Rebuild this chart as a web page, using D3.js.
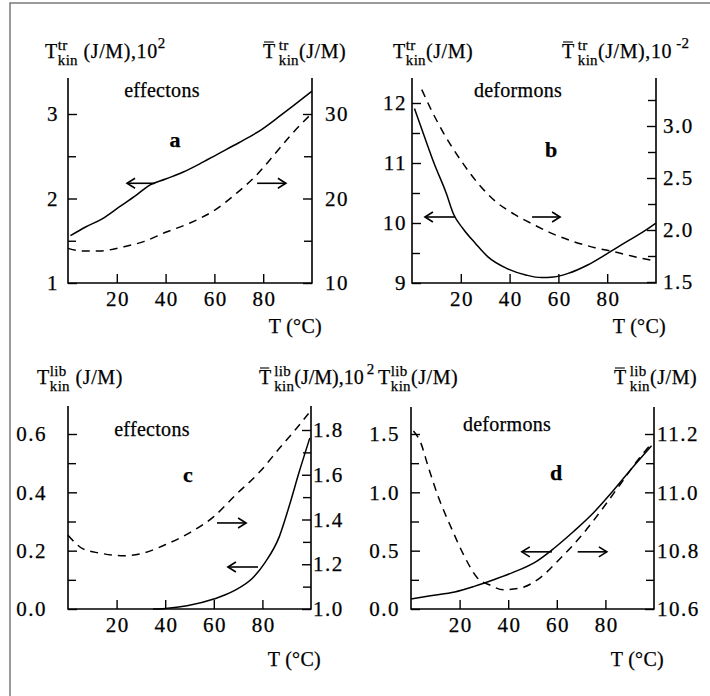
<!DOCTYPE html>
<html><head><meta charset="utf-8">
<script src="https://cdn.jsdelivr.net/npm/d3@7"></script>
<style>
body{margin:0;background:#fff;}
svg{display:block;font-family:"Liberation Serif","DejaVu Serif","Noto Serif",serif;}
svg text{font-family:"Liberation Serif","DejaVu Serif","Noto Serif",serif;fill:#000;stroke:#000;stroke-width:0.25px;}
.tk{font-size:21px;letter-spacing:1.5px;}
.hd{font-size:20px;letter-spacing:0.6px;}
.hd.tight{letter-spacing:0px;}
.sm{font-size:15px;letter-spacing:0.3px;}
.lb{font-size:20px;letter-spacing:0.3px;}
.bd{font-size:22px;font-weight:bold;}
</style></head><body>
<svg id="c" width="710" height="696" font-family="Liberation Serif, serif"></svg>
<script>
// ---------- data ----------
const xTicks = [20, 40, 60, 80];

// panel a : effectons, translational
const aSolidT = [1, 7, 14, 21, 28, 33, 40, 47, 54, 61, 70, 79, 87, 92, 100];
const aSolidV = [1.56, 1.66, 1.76, 1.90, 2.04, 2.15, 2.23, 2.31, 2.41, 2.52, 2.66, 2.81, 2.98, 3.09, 3.27];
const aDashT = [0, 6, 13, 23, 31, 40, 50, 60, 69, 77, 84, 91, 100];
const aDashV = [14.1, 13.8, 13.8, 14.3, 14.9, 16.0, 17.1, 18.6, 20.6, 22.7, 25.0, 27.4, 30.1];
const aLeftTicks = [1, 2, 3], aLeftMinor = [1.5, 2.5];
const aRightTicks = [10, 20, 30], aRightMinor = [15, 25];
const aArrows = [[35.7, 24.2, 2.18], [77.5, 89.3, 2.18]];

// panel b : deformons, translational
const bSolidT = [1, 5, 9, 14, 17, 21, 26, 31, 39, 47, 53, 58, 64, 72, 80, 88, 95, 100];
const bSolidV = [11.91, 11.45, 11.0, 10.5, 10.15, 9.9, 9.66, 9.44, 9.24, 9.13, 9.09, 9.1, 9.16, 9.30, 9.49, 9.69, 9.86, 10.0];
const bDashT = [4, 8, 13, 20, 27, 34, 42, 50, 58, 66, 75, 83, 90, 100];
const bDashV = [3.35, 3.15, 2.93, 2.67, 2.45, 2.28, 2.15, 2.05, 1.96, 1.89, 1.83, 1.79, 1.75, 1.70];
const bLeftTicks = [9, 10, 11, 12], bLeftMinor = [9.5, 10.5, 11.5];
const bRightTicks = [1.5, 2.0, 2.5, 3.0], bRightMinor = [1.75, 2.25, 2.75, 3.25];
const bArrows = [[17.6, 5.3, 10.1], [49.2, 60.7, 10.1]];

// panel c : effectons, librational
const cSolidT = [35, 40, 49, 60, 68, 76, 81, 87, 91, 95, 99.5];
const cSolidV = [0, 0.002, 0.011, 0.034, 0.061, 0.106, 0.158, 0.249, 0.352, 0.466, 0.586];
const cDashT = [0, 6, 13, 23, 31, 40, 50, 60, 69, 79, 87, 94, 99];
const cDashV = [1.33, 1.27, 1.25, 1.238, 1.25, 1.287, 1.34, 1.413, 1.51, 1.614, 1.718, 1.807, 1.874];
const cLeftTicks = [0, 0.2, 0.4, 0.6], cLeftMinor = [0.1, 0.3, 0.5];
const cRightTicks = [1.0, 1.2, 1.4, 1.6, 1.8], cRightMinor = [1.1, 1.3, 1.5, 1.7];
const cArrows = [[61.3, 73.3, 0.295], [78.2, 65.8, 0.144]];

// panel d : deformons, librational
const dSolidT = [0, 8, 18, 26, 34, 42, 51, 59, 67, 75, 83, 91, 99];
const dSolidV = [0.086, 0.114, 0.146, 0.194, 0.251, 0.314, 0.40, 0.523, 0.666, 0.823, 1.009, 1.209, 1.40];
const dDashT = [1, 4, 7, 11, 17, 22, 27, 33, 38, 45, 53, 61, 70, 78, 86, 94, 98];
const dDashV = [11.21, 11.17, 11.09, 10.99, 10.87, 10.78, 10.71, 10.68, 10.666, 10.672, 10.706, 10.77, 10.85, 10.935, 11.026, 11.118, 11.158];
const dLeftTicks = [0, 0.5, 1.0, 1.5], dLeftMinor = [0.25, 0.75, 1.25];
const dRightTicks = [10.6, 10.8, 11.0, 11.2], dRightMinor = [10.7, 10.9, 11.1];
const dArrows = [[58, 45.6, 0.49], [68.6, 80.6, 0.49]];

// ---------- layout ----------
const panels = [
  {x0:68, x1:312, top:78, bottom:283, lDom:[1,3], lRng:[283,114], rDom:[10,30], rRng:[283,114],
   lT:aLeftTicks, lM:aLeftMinor, rT:aRightTicks, rM:aRightMinor, lF:d3.format('d'), rF:d3.format('d'), lPad:9, rPad:13,
   sT:aSolidT, sV:aSolidV, dT:aDashT, dV:aDashV, arrows:aArrows,
   name:'effectons', nameX:162, nameY:97, letter:'a', letX:175, letY:147, unitY:333,
   hL:{x:45, y:58, bar:false, sup:'tr', sub:'kin', rest:' (J/M),10', rsup:'2', rdx:0},
   hR:{x:263, y:58, bar:true, sup:'tr', sub:'kin', rest:'(J/M)', rsup:''}},
  {x0:412, x1:656, top:78, bottom:283, lDom:[9,12], lRng:[283,103], rDom:[1.5,3.0], rRng:[282,126],
   lT:bLeftTicks, lM:bLeftMinor, rT:bRightTicks, rM:bRightMinor, lF:d3.format('d'), rF:d3.format('.1f'), lPad:5, rPad:7,
   sT:bSolidT, sV:bSolidV, dT:bDashT, dV:bDashV, arrows:bArrows,
   name:'deformons', nameX:518, nameY:97, letter:'b', letX:551, letY:157, unitY:333,
   hL:{x:393, y:58, bar:false, sup:'tr', sub:'kin', rest:'(J/M)', rsup:''},
   hR:{x:562, y:58, bar:true, sup:'tr', sub:'kin', rest:'(J/M),10', rsup:'-2', rdx:4}},
  {x0:68, x1:311, top:406, bottom:609, lDom:[0,0.6], lRng:[609,434], rDom:[1.0,1.8], rRng:[609,430],
   lT:cLeftTicks, lM:cLeftMinor, rT:cRightTicks, rM:cRightMinor, lF:d3.format('.1f'), rF:d3.format('.1f'), lPad:21, rPad:2,
   sT:cSolidT, sV:cSolidV, dT:cDashT, dV:cDashV, arrows:cArrows,
   name:'effectons', nameX:152, nameY:436, letter:'c', letX:188, letY:482, unitY:666,
   hL:{x:37, y:384, bar:false, sup:'lib', sub:'kin', rest:' (J/M)', rsup:''},
   hR:{x:259, y:384, bar:true, tight:true, sup:'lib', sub:'kin', rest:'(J/M),10', rsup:'2', rdx:3}},
  {x0:411, x1:654, top:407, bottom:609, lDom:[0,1.5], lRng:[609,434], rDom:[10.6,11.2], rRng:[609,434],
   lT:dLeftTicks, lM:dLeftMinor, rT:dRightTicks, rM:dRightMinor, lF:d3.format('.1f'), rF:d3.format('.1f'), lPad:11, rPad:3,
   sT:dSolidT, sV:dSolidV, dT:dDashT, dV:dDashV, arrows:dArrows,
   name:'deformons', nameX:507, nameY:431, letter:'d', letX:556, letY:480, unitY:666,
   hL:{x:378, y:384, bar:false, sup:'lib', sub:'kin', rest:'(J/M)', rsup:''},
   hR:{x:614, y:384, bar:true, sup:'lib', sub:'kin', rest:'(J/M)', rsup:''}}
];

const svg = d3.select('#c');
svg.append('rect').attr('width',710).attr('height',696).attr('fill','#fff');
// partial gray frame
svg.append('path').attr('d','M10,696V3H710').attr('fill','none').attr('stroke','#7a7a7a').attr('stroke-width',1.5);

function header(g, h) {
  const cls = h.tight ? 'hd tight' : 'hd';
  const t = g.append('text').attr('class',cls).attr('x',h.x).attr('y',h.y).text('T');
  const w = t.node().getComputedTextLength();
  if (h.bar) g.append('line').attr('x1',h.x+1).attr('x2',h.x+w-2).attr('y1',h.y-16).attr('y2',h.y-16)
      .attr('stroke','#000').attr('stroke-width',1.1);
  const sx = h.x + w + (h.bar ? 3 : 0);
  const s1 = g.append('text').attr('class','sm').attr('x',sx).attr('y',h.y-8).text(h.sup);
  const s2 = g.append('text').attr('class','sm').attr('x',sx).attr('y',h.y+7).text(h.sub);
  const rx = sx + Math.max(s1.node().getComputedTextLength(), s2.node().getComputedTextLength());
  const r = g.append('text').attr('class',cls).attr('x',rx).attr('y',h.y).style('white-space','pre').text(h.rest);
  if (h.rsup) {
    const rw = r.node().getComputedTextLength();
    g.append('text').attr('class','sm').attr('x',rx+rw+(h.rdx||0)).attr('y',h.y-10).text(h.rsup);
  }
}

function styleAxis(s) {
  s.attr('font-size',null).attr('font-family',null);
  s.select('.domain').remove();
  s.selectAll('.tick line').attr('stroke','#000').attr('stroke-width',1.4);
  s.selectAll('.tick text').attr('class','tk');
}

panels.forEach(p => {
  const g = svg.append('g');
  const x = d3.scaleLinear().domain([0,100]).range([p.x0,p.x1]);
  const yL = d3.scaleLinear().domain(p.lDom).range(p.lRng);
  const yR = d3.scaleLinear().domain(p.rDom).range(p.rRng);

  // axes
  g.append('g').attr('transform',`translate(0,${p.bottom})`)
    .call(d3.axisBottom(x).tickValues(xTicks).tickSize(-9).tickPadding(8).tickFormat(d3.format('d'))).call(styleAxis)
    .selectAll('.tick text').attr('dx','0.75');
  g.append('g').attr('transform',`translate(${p.x0},0)`)
    .call(d3.axisLeft(yL).tickValues(p.lT).tickSize(-9).tickPadding(p.lPad).tickFormat(p.lF)).call(styleAxis);
  g.append('g').attr('transform',`translate(${p.x0},0)`)
    .call(d3.axisLeft(yL).tickValues(p.lM).tickSize(-8).tickFormat('')).call(styleAxis);
  g.append('g').attr('transform',`translate(${p.x1},0)`)
    .call(d3.axisRight(yR).tickValues(p.rT).tickSize(-9).tickPadding(p.rPad).tickFormat(p.rF)).call(styleAxis);
  g.append('g').attr('transform',`translate(${p.x1},0)`)
    .call(d3.axisRight(yR).tickValues(p.rM).tickSize(-8).tickFormat('')).call(styleAxis);

  // frame lines (left, bottom, right)
  g.append('path').attr('d',`M${p.x0},${p.top}V${p.bottom}H${p.x1}V${p.top}`)
    .attr('fill','none').attr('stroke','#000').attr('stroke-width',1.6);

  // curves
  const lineL = d3.line().x(d=>x(d[0])).y(d=>yL(d[1])).curve(d3.curveMonotoneX);
  const lineR = d3.line().x(d=>x(d[0])).y(d=>yR(d[1])).curve(d3.curveMonotoneX);
  g.append('path').datum(d3.zip(p.sT,p.sV)).attr('d',lineL)
    .attr('fill','none').attr('stroke','#000').attr('stroke-width',1.5);
  g.append('path').datum(d3.zip(p.dT,p.dV)).attr('d',lineR)
    .attr('fill','none').attr('stroke','#000').attr('stroke-width',1.5).attr('stroke-dasharray','8,6');

  // arrows
  p.arrows.forEach(a => {
    const x1 = x(a[0]), x2 = x(a[1]), yy = yL(a[2]);
    const dir = x2 > x1 ? -1 : 1;
    g.append('line').attr('x1',x1).attr('x2',x2).attr('y1',yy).attr('y2',yy)
      .attr('stroke','#000').attr('stroke-width',1.6);
    g.append('path').attr('d',`M${x2+dir*8},${yy-5}L${x2},${yy}L${x2+dir*8},${yy+5}`)
      .attr('fill','none').attr('stroke','#000').attr('stroke-width',1.6);
  });

  // texts
  g.append('text').attr('class','lb').attr('x',p.nameX).attr('y',p.nameY).attr('text-anchor','middle').text(p.name);
  g.append('text').attr('class','bd').attr('x',p.letX).attr('y',p.letY).attr('text-anchor','middle').text(p.letter);
  g.append('text').attr('class','lb').attr('x',p.x1+10).attr('y',p.unitY).attr('text-anchor','end').text('T (°C)');
  header(g, p.hL);
  header(g, p.hR);
});
</script></body></html>
